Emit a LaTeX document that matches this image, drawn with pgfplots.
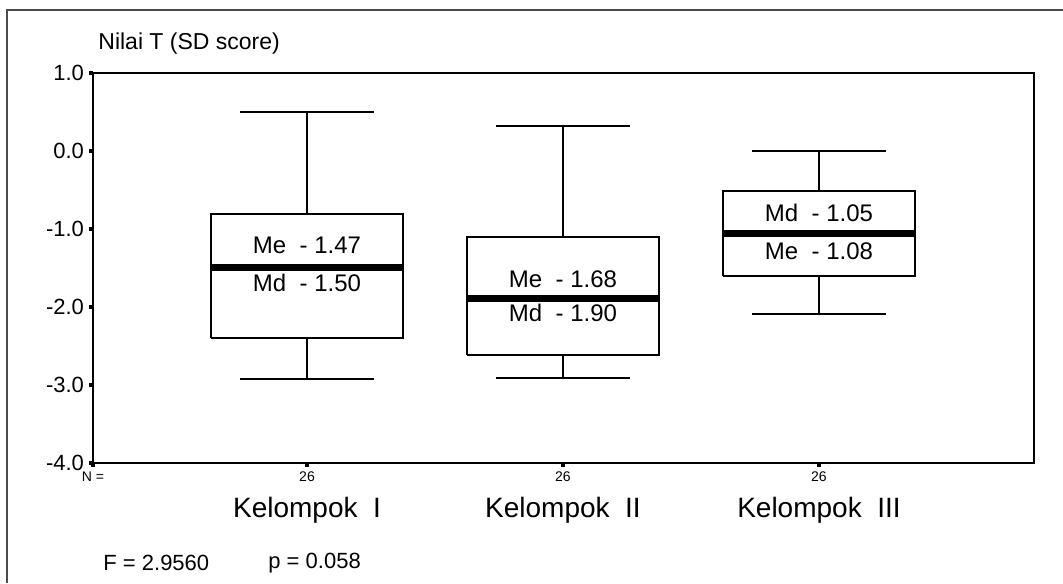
\documentclass[border=0pt]{standalone}
\usepackage{fontspec}
\setmainfont{Liberation Sans}
\usepackage{pgfplots}
\pgfplotsset{compat=1.18}
\begin{document}
\begin{tikzpicture}
\useasboundingbox (0,0) rectangle (531.5pt,291.5pt);
\fill[white] (0,0) rectangle (531.5pt,291.5pt);
\draw[line width=0.6pt,black!70] (3.5pt,0) -- (3.5pt,286.5pt) -- (531.5pt,286.5pt);
\begin{axis}[
  at={(46.5pt,60pt)}, anchor=south west,
  scale only axis, width=470.5pt, height=195pt,
  xmin=0.164, xmax=3.84, ymin=-4, ymax=1,
  axis line style={line width=1pt},
  xtick={0.164,1,2,3}, xticklabels={N =,26,26,26},
  ytick={-4,-3,-2,-1,0,1}, yticklabels={-4.0,-3.0,-2.0,-1.0,0.0,1.0},
  tick align=outside, major tick length=2pt,
  tick style={line width=1.6pt,black},
  xtick pos=bottom, ytick pos=left,
  xticklabel style={font=\fontsize{7}{8}\selectfont, yshift=1pt},
  yticklabel style={font=\fontsize{11}{12}\selectfont, xshift=1pt},
  clip=false,
  unbounded coords=jump,
]
% Group I: whiskers -2.92 / 0.50, quartiles -2.40 / -0.81, median -1.50
\addplot[black, line width=0.9pt, line join=miter] coordinates {
 (0.625,-2.40) (1.375,-2.40) (1.375,-0.81) (0.625,-0.81) (0.625,-2.40)
 (nan,nan) (1,-0.81) (1,0.50) (nan,nan) (0.74,0.50) (1.26,0.50)
 (nan,nan) (1,-2.40) (1,-2.92) (nan,nan) (0.74,-2.92) (1.26,-2.92)};
\addplot[black, line width=3.5pt] coordinates {(0.625,-1.50) (1.375,-1.50)};
% Group II: whiskers -2.91 / 0.32, quartiles -2.62 / -1.10, median -1.89
\addplot[black, line width=0.9pt, line join=miter] coordinates {
 (1.625,-2.62) (2.375,-2.62) (2.375,-1.10) (1.625,-1.10) (1.625,-2.62)
 (nan,nan) (2,-1.10) (2,0.32) (nan,nan) (1.74,0.32) (2.26,0.32)
 (nan,nan) (2,-2.62) (2,-2.91) (nan,nan) (1.74,-2.91) (2.26,-2.91)};
\addplot[black, line width=3.5pt] coordinates {(1.625,-1.89) (2.375,-1.89)};
% Group III: whiskers -2.09 / 0.00, quartiles -1.60 / -0.51, median -1.06
\addplot[black, line width=0.9pt, line join=miter] coordinates {
 (2.625,-1.60) (3.375,-1.60) (3.375,-0.51) (2.625,-0.51) (2.625,-1.60)
 (nan,nan) (3,-0.51) (3,0.00) (nan,nan) (2.74,0.00) (3.26,0.00)
 (nan,nan) (3,-1.60) (3,-2.09) (nan,nan) (2.74,-2.09) (3.26,-2.09)};
\addplot[black, line width=3.5pt] coordinates {(2.625,-1.06) (3.375,-1.06)};
\begin{scope}[every node/.style={font=\fontsize{12}{14}\selectfont, inner sep=0pt}]
\node at (axis cs:1,-1.21) {Me\ \ - 1.47};
\node at (axis cs:1,-1.69) {Md\ \ - 1.50};
\node at (axis cs:2,-1.65) {Me\ \ - 1.68};
\node at (axis cs:2,-2.08) {Md\ \ - 1.90};
\node at (axis cs:3,-0.80) {Md\ \ - 1.05};
\node at (axis cs:3,-1.29) {Me\ \ - 1.08};
\end{scope}
\begin{scope}[every node/.style={font=\fontsize{14}{16}\selectfont, inner sep=0pt}]
\node at ([yshift=-23.5pt]axis cs:1,-4) {Kelompok\ \ I};
\node at ([yshift=-23.5pt]axis cs:2,-4) {Kelompok\ \ II};
\node at ([yshift=-23.5pt]axis cs:3,-4) {Kelompok\ \ III};
\end{scope}
\end{axis}
\node[anchor=base west, inner sep=0pt, font=\fontsize{11.5}{13}\selectfont] at (49pt,266.5pt) {Nilai T (SD score)};
\node[anchor=west, inner sep=0pt, font=\fontsize{11}{13}\selectfont] at (51.5pt,10pt) {F = 2.9560};
\node[anchor=west, inner sep=0pt, font=\fontsize{11}{13}\selectfont] at (134pt,10pt) {p = 0.058};
\end{tikzpicture}
\end{document}
